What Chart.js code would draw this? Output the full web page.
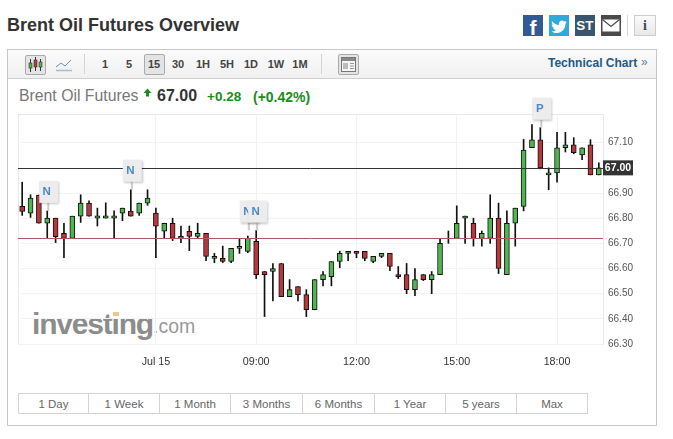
<!DOCTYPE html>
<html>
<head>
<meta charset="utf-8">
<script src="https://cdn.jsdelivr.net/npm/chart.js@4"></script>
<style>
  html, body { margin: 0; padding: 0; background: #fff; overflow: hidden; }
  body { width: 673px; height: 439px; position: relative; font-family: "Liberation Sans", Arial, sans-serif; color: #333; }
  .abs { position: absolute; white-space: nowrap; }
  #chartCanvas { position: absolute; left: 0; top: 90px; }
  .frame { left: 7px; top: 49px; width: 648px; height: 375px; border: 1.5px solid #c8c8c8; }
  .toolbar { left: 8px; top: 50px; width: 648px; height: 28px; background: linear-gradient(#fbfbfb, #f0f0f0); border-bottom: 1.5px solid #d0d0d0; }
  .tf { top: 56px; width: 24px; text-align: center; font: bold 11px/16px "Liberation Sans", Arial, sans-serif; color: #444; }
  .sep { top: 54px; width: 1px; height: 20px; background: #d4d4d4; }
  .btn { border: 1px solid #aaa; border-radius: 2px; background: #e4e4e4; box-sizing: border-box; }
  .social { top: 15px; width: 20px; height: 21px; color: #fff; text-align: center; font-family: "Liberation Sans", Arial, sans-serif; font-weight: bold; }
  .tab { top: 393px; height: 21px; box-sizing: border-box; border: 1px solid #d4d4d4; border-left: 0; text-align: center; font-size: 11.5px; line-height: 20px; color: #666; }
</style>
</head>
<body>
<div class="abs" style="left:7px;top:15px;font:bold 18px/20px 'Liberation Sans',Arial,sans-serif;color:#333;">Brent Oil Futures Overview</div>

<div class="abs social" style="left:523px;background:#2f5a94;font-size:21px;line-height:25px;">f</div>
<div class="abs social" style="left:549px;background:#2fa8dc;">
  <svg width="20" height="21" viewBox="0 0 20 21"><path d="M3 6c2 2.6 4.500 3.800 7 4-.5-2.600 1-4.500 3-4.500 1 0 1.800.4 2.300 1l2-.7-1 1.800 1.700-.4-1.500 1.600c0 5-3.500 9.200-8.500 9.200-2 0-3.800-.6-5.300-1.600 1.700.1 3.200-.3 4.500-1.300-1.500 0-2.700-1-3.100-2.300h1.400C3.800 12.400 2.700 11 2.800 9.400l1.400.4C2.800 8.800 2.400 7.300 3 6z" fill="#fff"/></svg>
</div>
<div class="abs social" style="left:575px;background:#3a5570;font-size:13.5px;line-height:21px;">ST</div>
<div class="abs social" style="left:601px;background:#4a4a4a;">
  <svg width="20" height="21" viewBox="0 0 20 21"><rect x="1.500" y="4.500" width="17" height="12" fill="#fff"/><path d="M1.500 4.500 10 11.500 18.500 4.500" fill="none" stroke="#4a4a4a" stroke-width="1.200"/></svg>
</div>
<div class="abs sep" style="left:627px;top:15px;height:21px;"></div>
<div class="abs" style="left:634px;top:15px;width:22px;height:21px;box-sizing:border-box;border:1px solid #ccc;background:linear-gradient(#fafafa,#e8e8e8);text-align:center;font:bold 14px/19px 'Liberation Serif',serif;color:#3a4a5a;">i</div>

<div class="abs frame"></div>
<div class="abs toolbar"></div>

<div class="abs btn" style="left:25px;top:55px;width:21px;height:20px;">
  <svg width="19" height="18" viewBox="0 0 19 18">
    <path d="M4.500 3v13M9.500 1v14M14.500 3v12" stroke="#333" stroke-width="1"/>
    <rect x="3" y="7" width="3" height="5" fill="#4fb54f" stroke="#333" stroke-width=".6"/>
    <rect x="8" y="4" width="3" height="7" fill="#b5383c" stroke="#333" stroke-width=".6"/>
    <rect x="13" y="6" width="3" height="5" fill="#4fb54f" stroke="#333" stroke-width=".6"/>
  </svg>
</div>
<svg class="abs" style="left:55px;top:58px;" width="18" height="14" viewBox="0 0 18 14">
  <path d="M1 9 6 5l4 3 6-6" fill="none" stroke="#6f93b5" stroke-width="1"/>
  <path d="M1 12.500h16" stroke="#a9bccd" stroke-width="1.500"/>
</svg>
<div class="abs sep" style="left:84px;"></div>

<div class="abs tf" style="left:93px;">1</div>
<div class="abs tf" style="left:117px;">5</div>
<div class="abs btn" style="left:144px;top:54px;width:21px;height:21px;"></div>
<div class="abs tf" style="left:142px;">15</div>
<div class="abs tf" style="left:166px;">30</div>
<div class="abs tf" style="left:191px;">1H</div>
<div class="abs tf" style="left:215px;">5H</div>
<div class="abs tf" style="left:239px;">1D</div>
<div class="abs tf" style="left:264px;">1W</div>
<div class="abs tf" style="left:288px;">1M</div>
<div class="abs sep" style="left:321px;"></div>

<div class="abs btn" style="left:338px;top:54px;width:21px;height:21px;">
  <svg width="19" height="19" viewBox="0 0 19 19">
    <rect x="2.500" y="2.500" width="14" height="14" fill="#f4f4f4" stroke="#777"/>
    <rect x="3" y="3" width="13" height="3" fill="#888"/>
    <path d="M4 8h5v6H4z" fill="#bbb"/>
    <path d="M11 8.500h4M11 11h4M11 13.500h4" stroke="#999"/>
  </svg>
</div>
<div class="abs" style="left:548px;top:56px;font:bold 12px/15px 'Liberation Sans',Arial,sans-serif;color:#1e5a8a;">Technical Chart</div>
<div class="abs" style="left:641px;top:55px;font:12px/15px 'Liberation Sans',Arial,sans-serif;color:#5f7f9f;">»</div>

<div class="abs" style="left:19px;top:87px;font:15.800px/18px 'Liberation Sans',Arial,sans-serif;color:#777;">Brent Oil Futures</div>
<svg class="abs" style="left:143px;top:88px;" width="9" height="9" viewBox="0 0 9 9"><path d="M4.500 0.500 8.500 5H6v3.500H3V5H.5z" fill="#1a8c1a"/></svg>
<div class="abs" style="left:157px;top:87px;font:bold 16px/18px 'Liberation Sans',Arial,sans-serif;color:#333;">67.00</div>
<div class="abs" style="left:207px;top:89px;font:bold 13.500px/16px 'Liberation Sans',Arial,sans-serif;color:#1a8c1a;">+0.28</div>
<div class="abs" style="left:253px;top:89px;font:bold 14px/16px 'Liberation Sans',Arial,sans-serif;color:#1a8c1a;">(+0.42%)</div>

<div class="abs" style="left:32px;top:306px;font:bold 30px/36px 'Liberation Sans',Arial,sans-serif;letter-spacing:-1.200px;color:#8c8c8c;">investing</div>
<div class="abs" style="left:153px;top:314px;font:19.500px/24px 'Liberation Sans',Arial,sans-serif;color:#999;">.com</div>
<div class="abs" style="left:113px;top:312px;width:6px;height:4px;background:#f0c68a;"></div>

<canvas id="chartCanvas" width="650" height="300"></canvas>

<div class="abs tab" style="left:18px;width:71px;border-left:1px solid #d4d4d4;">1 Day</div>
<div class="abs tab" style="left:89px;width:71px;">1 Week</div>
<div class="abs tab" style="left:160px;width:71px;">1 Month</div>
<div class="abs tab" style="left:231px;width:72px;">3 Months</div>
<div class="abs tab" style="left:303px;width:72px;">6 Months</div>
<div class="abs tab" style="left:375px;width:71px;">1 Year</div>
<div class="abs tab" style="left:446px;width:71px;">5 years</div>
<div class="abs tab" style="left:517px;width:71px;">Max</div>

<script>
const opens = [66.847,66.82,66.892,66.78,66.80,66.74,66.72,66.808,66.86,66.80,
  66.80,66.80,66.82,66.828,66.82,66.86,66.82,66.748,66.78,66.72,
  66.748,66.728,66.74,66.64,66.64,66.628,66.68,66.668,66.708,66.588,
  66.588,66.62,66.488,66.528,66.496,66.436,66.556,66.568,66.628,66.66,
  66.668,66.668,66.628,66.648,66.66,66.576,66.576,66.516,66.576,66.556,
  66.576,66.72,66.72,66.80,66.78,66.72,66.72,66.80,66.576,66.78,
  66.847,67.08,67.111,66.972,66.98,67.08,67.091,67.051,67.091,66.972];
const closes = [66.827,66.88,66.78,66.80,66.727,66.72,66.808,66.86,66.808,66.809,
  66.809,66.809,66.84,66.808,66.86,66.88,66.768,66.78,66.72,66.728,
  66.728,66.74,66.648,66.648,66.628,66.68,66.688,66.72,66.576,66.576,
  66.60,66.488,66.516,66.496,66.436,66.556,66.576,66.628,66.66,66.668,
  66.66,66.64,66.648,66.66,66.608,66.568,66.516,66.556,66.556,66.576,
  66.70,66.72,66.78,66.808,66.72,66.74,66.80,66.60,66.78,66.84,
  67.071,67.111,67.0,66.98,67.08,67.091,67.06,67.08,66.972,67.0];
const highs = [66.943,66.893,66.892,66.829,66.80,66.78,66.808,66.893,66.869,66.84,
  66.861,66.829,66.84,66.913,66.86,66.913,66.84,66.78,66.80,66.769,
  66.769,66.78,66.74,66.66,66.689,66.68,66.717,66.729,66.751,66.588,
  66.62,66.62,66.556,66.528,66.516,66.556,66.588,66.628,66.669,66.668,
  66.668,66.668,66.648,66.66,66.66,66.608,66.62,66.60,66.576,66.588,
  66.716,66.749,66.849,66.808,66.80,66.749,66.893,66.86,66.829,66.84,
  67.113,67.172,67.16,67.0,67.141,67.141,67.12,67.08,67.112,67.02];
const lows = [66.811,66.803,66.78,66.72,66.703,66.643,66.72,66.783,66.808,66.769,
  66.80,66.72,66.79,66.808,66.811,66.851,66.643,66.72,66.711,66.703,
  66.671,66.72,66.631,66.623,66.623,66.623,66.66,66.663,66.56,66.409,
  66.471,66.488,66.488,66.471,66.409,66.436,66.531,66.531,66.603,66.631,
  66.643,66.631,66.623,66.643,66.591,66.56,66.50,66.492,66.552,66.50,
  66.576,66.70,66.72,66.70,66.689,66.689,66.70,66.58,66.576,66.689,
  66.829,67.08,66.996,66.913,66.943,67.063,67.056,67.033,66.972,66.972];

const tickIndex = [16, 28, 40, 52, 64];
const tickLabels = ["Jul 15", "09:00", "12:00", "15:00", "18:00"];
const yTicks = [66.3, 66.4, 66.5, 66.6, 66.7, 66.8, 66.9, 67.1];

const lastPrice = 67.0;
const prevClose = 66.72;

const flagIndex = [3, 13, 27, 28, 62];
const flagText = ["N", "N", "N", "N", "P"];
const flagValue = [66.829, 66.913, 66.751, 66.751, 67.16];

const greenFill = "#4fb54f";
const redFill = "#b5383c";

// lines, price tag and news flags sit on top of the candles
const overlayPlugin = {
  id: "overlay",
  beforeDraw(chart) {
    const { ctx, chartArea: a } = chart;
    ctx.save();
    ctx.strokeStyle = "#e8e8e8";
    ctx.lineWidth = 1;
    ctx.strokeRect(a.left + 0.5, a.top + 0.5, a.right - a.left, a.bottom - a.top);
    ctx.restore();
  },
  afterDatasetsDraw(chart) {
    const { ctx, chartArea: a, scales } = chart;
    const yLast = scales.y.getPixelForValue(lastPrice);
    const yPrev = scales.y.getPixelForValue(prevClose);
    ctx.save();
    ctx.lineWidth = 1;
    ctx.strokeStyle = "#a85a5a";
    ctx.beginPath(); ctx.moveTo(a.left, Math.round(yPrev) + 0.5); ctx.lineTo(a.right, Math.round(yPrev) + 0.5); ctx.stroke();
    ctx.strokeStyle = "#333";
    ctx.beginPath(); ctx.moveTo(a.left, Math.round(yLast) + 0.5); ctx.lineTo(a.right, Math.round(yLast) + 0.5); ctx.stroke();

    // price tag
    ctx.fillStyle = "#333";
    ctx.fillRect(a.right, yLast - 7.5, 30, 15);
    ctx.fillStyle = "#fff";
    ctx.font = "bold 10.5px 'Liberation Sans', Arial, sans-serif";
    ctx.textAlign = "center";
    ctx.textBaseline = "middle";
    ctx.fillText(lastPrice.toFixed(2), a.right + 15, yLast + 0.5);

    // flags
    flagIndex.forEach((idx, i) => {
      const x = scales.x.getPixelForValue(idx);
      const y = scales.y.getPixelForValue(flagValue[i]);
      const bottom = y - 8;
      ctx.strokeStyle = "#ccc";
      ctx.lineWidth = 2;
      ctx.beginPath(); ctx.moveTo(x + 1, bottom); ctx.lineTo(x + 1, y); ctx.stroke();
      ctx.save();
      ctx.shadowColor = "rgba(0,0,0,0.22)";
      ctx.shadowBlur = 2;
      ctx.shadowOffsetX = 1;
      ctx.shadowOffsetY = 1;
      ctx.fillStyle = "#ececec";
      ctx.fillRect(x - 8, bottom - 22, 19, 22);
      ctx.restore();
      ctx.fillStyle = "#4c88c4";
      ctx.font = "bold 11.5px 'Liberation Sans', Arial, sans-serif";
      ctx.fillText(flagText[i], x - 0.5, bottom - 11);
    });
    ctx.restore();
  },
};

const candleFill = opens.map((o, i) => (closes[i] >= o ? greenFill : redFill));

new Chart(document.getElementById("chartCanvas"), {
  type: "bar",
  plugins: [overlayPlugin],
  data: {
    labels: opens.map((_, i) => i),
    datasets: [
      {
        label: "Body",
        data: opens.map((o, i) => [o, closes[i]]),
        backgroundColor: candleFill,
        borderColor: "#111",
        borderWidth: 1,
        borderSkipped: false,
        barThickness: 5,
        grouped: false,
        order: 1,
      },
      {
        label: "Wick",
        data: lows.map((l, i) => [l, highs[i]]),
        backgroundColor: "#111",
        borderWidth: 0,
        barThickness: 1,
        grouped: false,
        order: 2,
      },
    ],
  },
  options: {
    responsive: false,
    animation: false,
    layout: { padding: { top: 24, left: 18, right: 0, bottom: 0 } },
    plugins: { legend: { display: false }, tooltip: { enabled: false } },
    scales: {
      x: {
        type: "category",
        afterFit(scale) { scale.height = 46; },
        border: { display: false },
        grid: {
          offset: false,
          drawTicks: false,
          color: (c) => (tickIndex.includes(c.index) ? "#f1f1f1" : "transparent"),
        },
        ticks: {
          autoSkip: false,
          maxRotation: 0,
          padding: 12,
          color: "#333",
          font: { family: "'Liberation Sans', Arial, sans-serif", size: 10.7 },
          callback(value, index) {
            const k = tickIndex.indexOf(index);
            return k >= 0 ? tickLabels[k] : "";
          },
        },
      },
      y: {
        position: "right",
        min: 66.3,
        max: 67.214,
        afterFit(scale) { scale.width = 47; },
        afterBuildTicks(scale) { scale.ticks = yTicks.map((value) => ({ value })); },
        border: { display: false },
        grid: { drawTicks: false, color: "#f3f3f3" },
        ticks: {
          padding: 5,
          color: "#555",
          font: { family: "'Liberation Sans', Arial, sans-serif", size: 10 },
          callback: (v) => Number(v).toFixed(2),
        },
      },
    },
  },
});
</script>
</body>
</html>
